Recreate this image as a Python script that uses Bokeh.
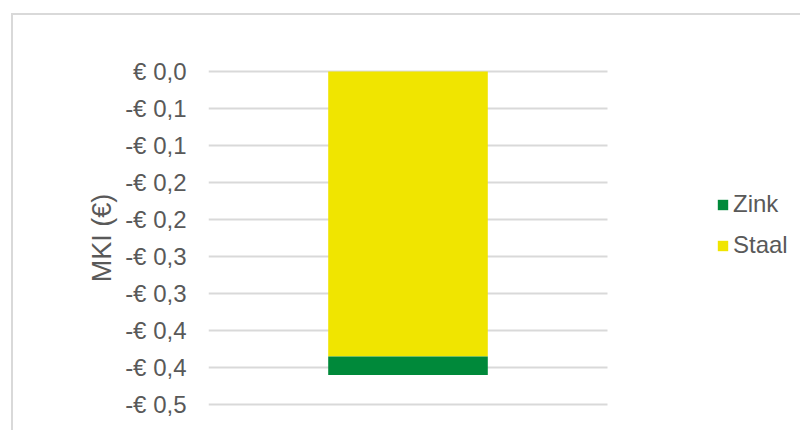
from bokeh.plotting import figure
from bokeh.models import Range1d, FixedTicker, Legend, LegendItem, BoxAnnotation
from bokeh.embed import file_html
from bokeh.resources import INLINE

categories = ["MKI"]
series_names = ["Staal", "Zink"]
staal = [-0.385]
zink = [-0.025]
colors = {"Staal": "#F0E500", "Zink": "#00893A"}
tick_values = [0.0, -0.05, -0.1, -0.15, -0.2, -0.25, -0.3, -0.35, -0.4, -0.45]
tick_labels = ["€ 0,0", "-€ 0,1", "-€ 0,1", "-€ 0,2", "-€ 0,2", "-€ 0,3", "-€ 0,3", "-€ 0,4", "-€ 0,4", "-€ 0,5"]
y_title = "MKI (€)"

FONT = "Liberation Sans"
TXT = "#595959"

# plot area (gridlines) spans category slot [-0.5, 0.5]; the frame continues to the right to hold the legend
plot_px = 399
frame_px = 594
x_pos = list(range(len(categories)))

p = figure(width=789, height=417, output_backend="svg", toolbar_location=None,
           x_range=Range1d(-0.5, -0.5 + frame_px / plot_px), y_range=Range1d(-0.4527, 0.0027),
           min_border_left=195, min_border_right=0, min_border_top=54, min_border_bottom=26)
p.styles = {"margin-left": "11px", "margin-top": "13px",
            "border-left": "2px solid #d9d9d9", "border-top": "2px solid #d9d9d9"}
p.outline_line_color = None
p.background_fill_color = "white"
p.border_fill_color = "white"

data = {"x": x_pos, "cat": categories, "Staal": staal, "Zink": zink}
r = p.vbar_stack(series_names, x="x", width=0.4, source=data,
                 color=[colors[s] for s in series_names], line_color=None)

p.xaxis.visible = False
p.xgrid.visible = False
p.ygrid.grid_line_color = "#d9d9d9"
p.ygrid.grid_line_width = 2

# hide gridlines to the right of the plot area (legend region)
p.add_layout(BoxAnnotation(left=len(categories) - 0.5, fill_color="white", fill_alpha=1,
                           line_color=None))

ya = p.yaxis[0]
ya.ticker = FixedTicker(ticks=tick_values)
ya.major_label_overrides = {v: l for v, l in zip(tick_values, tick_labels)}
ya.axis_line_color = None
ya.major_tick_line_color = None
ya.minor_tick_line_color = None
ya.major_label_text_font = FONT
ya.major_label_text_font_size = "24px"
ya.major_label_text_color = TXT
ya.major_label_standoff = 16
ya.axis_label = y_title
ya.axis_label_text_font = FONT
ya.axis_label_text_font_size = "27px"
ya.axis_label_text_font_style = "normal"
ya.axis_label_text_color = TXT
ya.axis_label_standoff = 5

items = [LegendItem(label="Zink", renderers=[r[1]]), LegendItem(label="Staal", renderers=[r[0]])]
legend = Legend(items=items, location=(508, 147), padding=0, margin=0,
                border_line_color=None, background_fill_alpha=0,
                glyph_width=13, glyph_height=13, label_standoff=4,
                label_height=26, spacing=13,
                label_text_font=FONT, label_text_font_size="24px", label_text_color=TXT)
p.add_layout(legend, "center")

open("out.html", "w").write(file_html(p, INLINE))
